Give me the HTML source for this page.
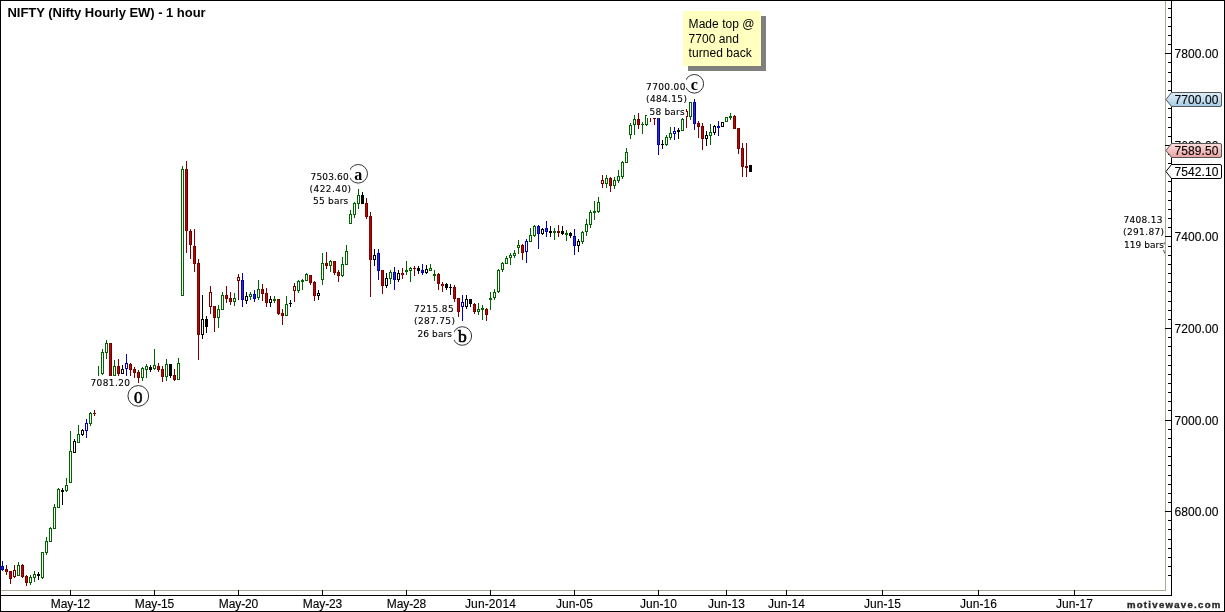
<!DOCTYPE html>
<html><head><meta charset="utf-8"><title>NIFTY (Nifty Hourly EW) - 1 hour</title>
<style>html,body{margin:0;padding:0;background:#fff;overflow:hidden}svg{display:block;will-change:transform;transform:translateZ(0)}text{font-family:"Liberation Sans",Arial,sans-serif;fill:#000}.ax{font-size:12px;letter-spacing:0.12px;stroke:#000;stroke-width:0.12px}.lb{font-family:"DejaVu Sans","Liberation Sans",sans-serif;font-size:9px;letter-spacing:0.27px;stroke:#000;stroke-width:0.12px}.ti{font-size:13px;font-weight:bold;letter-spacing:-0.03px}.wv{font-family:"Liberation Serif","Times New Roman",serif;font-weight:bold;font-size:17px}.nt{font-size:12px;letter-spacing:0.04px}.wm{font-size:9.6px;font-weight:bold;letter-spacing:1.28px;fill:#2a2a2a;stroke:#2a2a2a;stroke-width:0.4px}</style></head><body>
<svg width="1225" height="612" viewBox="0 0 1225 612">
<defs><linearGradient id="gb" x1="0" y1="0" x2="0" y2="1"><stop offset="0" stop-color="#dcecf8"/><stop offset="0.5" stop-color="#c4def0"/><stop offset="1" stop-color="#a3cbe6"/></linearGradient><linearGradient id="gp" x1="0" y1="0" x2="0" y2="1"><stop offset="0" stop-color="#fbdcdc"/><stop offset="0.5" stop-color="#f4c0c0"/><stop offset="1" stop-color="#eaa0a0"/></linearGradient><clipPath id="cp"><rect x="1" y="1" width="1164" height="589"/></clipPath></defs>
<rect x="0" y="0" width="1225" height="612" fill="#fff"/>
<g shape-rendering="crispEdges">
<rect x="2" y="561" width="1" height="10" fill="#0000c8"/>
<rect x="1" y="566" width="3" height="4" fill="#0000f0"/>
<rect x="3" y="566" width="1" height="4" fill="#00007a"/>
<rect x="2" y="567" width="1" height="2" fill="#3030c0"/>
<rect x="6" y="565" width="1" height="10" fill="#7a0000"/>
<rect x="5" y="569" width="3" height="3" fill="#8e0000"/>
<rect x="7" y="569" width="1" height="3" fill="#520000"/>
<rect x="6" y="570" width="1" height="1" fill="#cc0000"/>
<rect x="10" y="571" width="1" height="13" fill="#7a0000"/>
<rect x="9" y="571" width="3" height="8" fill="#8e0000"/>
<rect x="11" y="571" width="1" height="8" fill="#520000"/>
<rect x="10" y="572" width="1" height="6" fill="#cc0000"/>
<rect x="14" y="565" width="1" height="13" fill="#7a0000"/>
<rect x="13" y="570" width="3" height="7" fill="#7a0000"/>
<rect x="14" y="571" width="1" height="5" fill="#fff"/>
<rect x="18" y="562" width="1" height="14" fill="#006400"/>
<rect x="17" y="565" width="3" height="11" fill="#006400"/>
<rect x="18" y="566" width="1" height="9" fill="#fff"/>
<rect x="22" y="564" width="1" height="14" fill="#7a0000"/>
<rect x="21" y="565" width="3" height="12" fill="#8e0000"/>
<rect x="23" y="565" width="1" height="12" fill="#520000"/>
<rect x="22" y="566" width="1" height="10" fill="#cc0000"/>
<rect x="26" y="575" width="1" height="11" fill="#7a0000"/>
<rect x="25" y="576" width="3" height="7" fill="#8e0000"/>
<rect x="27" y="576" width="1" height="7" fill="#520000"/>
<rect x="26" y="577" width="1" height="5" fill="#cc0000"/>
<rect x="30" y="575" width="1" height="10" fill="#006400"/>
<rect x="29" y="577" width="3" height="6" fill="#006400"/>
<rect x="30" y="578" width="1" height="4" fill="#fff"/>
<rect x="34" y="571" width="1" height="11" fill="#006400"/>
<rect x="33" y="574" width="3" height="4" fill="#006400"/>
<rect x="34" y="575" width="1" height="2" fill="#fff"/>
<rect x="38" y="572" width="1" height="8" fill="#000000"/>
<rect x="37" y="574" width="3" height="2" fill="#000000"/>
<rect x="42" y="552" width="1" height="27" fill="#006400"/>
<rect x="41" y="552" width="3" height="26" fill="#006400"/>
<rect x="42" y="553" width="1" height="24" fill="#fff"/>
<rect x="46" y="537" width="1" height="18" fill="#006400"/>
<rect x="45" y="541" width="3" height="12" fill="#006400"/>
<rect x="46" y="542" width="1" height="10" fill="#fff"/>
<rect x="50" y="527" width="1" height="15" fill="#006400"/>
<rect x="49" y="528" width="3" height="14" fill="#006400"/>
<rect x="50" y="529" width="1" height="12" fill="#fff"/>
<rect x="54" y="504" width="1" height="25" fill="#006400"/>
<rect x="53" y="507" width="3" height="22" fill="#006400"/>
<rect x="54" y="508" width="1" height="20" fill="#fff"/>
<rect x="58" y="488" width="1" height="20" fill="#006400"/>
<rect x="57" y="489" width="3" height="19" fill="#006400"/>
<rect x="58" y="490" width="1" height="17" fill="#fff"/>
<rect x="62" y="488" width="1" height="17" fill="#000000"/>
<rect x="61" y="490" width="3" height="2" fill="#000000"/>
<rect x="66" y="478" width="1" height="14" fill="#006400"/>
<rect x="65" y="485" width="3" height="6" fill="#006400"/>
<rect x="66" y="486" width="1" height="4" fill="#fff"/>
<rect x="70" y="431" width="1" height="52" fill="#006400"/>
<rect x="69" y="451" width="3" height="32" fill="#006400"/>
<rect x="70" y="452" width="1" height="30" fill="#fff"/>
<rect x="74" y="439" width="1" height="14" fill="#000000"/>
<rect x="73" y="441" width="3" height="12" fill="#000000"/>
<rect x="74" y="442" width="1" height="10" fill="#fff"/>
<rect x="78" y="425" width="1" height="18" fill="#006400"/>
<rect x="77" y="434" width="3" height="9" fill="#006400"/>
<rect x="78" y="435" width="1" height="7" fill="#fff"/>
<rect x="82" y="429" width="1" height="7" fill="#000000"/>
<rect x="81" y="430" width="3" height="5" fill="#000000"/>
<rect x="82" y="431" width="1" height="3" fill="#fff"/>
<rect x="86" y="419" width="1" height="19" fill="#0000c8"/>
<rect x="85" y="423" width="3" height="8" fill="#0000c8"/>
<rect x="86" y="424" width="1" height="6" fill="#fff"/>
<rect x="90" y="412" width="1" height="14" fill="#006400"/>
<rect x="89" y="413" width="3" height="11" fill="#006400"/>
<rect x="90" y="414" width="1" height="9" fill="#fff"/>
<rect x="94" y="410" width="1" height="6" fill="#7a0000"/>
<rect x="93" y="413" width="3" height="1" fill="#7a0000"/>
<rect x="98" y="366" width="1" height="10" fill="#006400"/>
<rect x="102" y="349" width="1" height="26" fill="#006400"/>
<rect x="101" y="352" width="3" height="22" fill="#006400"/>
<rect x="102" y="353" width="1" height="20" fill="#fff"/>
<rect x="106" y="340" width="1" height="19" fill="#006400"/>
<rect x="105" y="343" width="3" height="10" fill="#006400"/>
<rect x="106" y="344" width="1" height="8" fill="#fff"/>
<rect x="110" y="343" width="1" height="33" fill="#7a0000"/>
<rect x="109" y="343" width="3" height="33" fill="#8e0000"/>
<rect x="111" y="343" width="1" height="33" fill="#520000"/>
<rect x="110" y="344" width="1" height="31" fill="#cc0000"/>
<rect x="114" y="360" width="1" height="16" fill="#006400"/>
<rect x="113" y="366" width="3" height="10" fill="#006400"/>
<rect x="114" y="367" width="1" height="8" fill="#fff"/>
<rect x="118" y="359" width="1" height="17" fill="#7a0000"/>
<rect x="117" y="366" width="3" height="8" fill="#8e0000"/>
<rect x="119" y="366" width="1" height="8" fill="#520000"/>
<rect x="118" y="367" width="1" height="6" fill="#cc0000"/>
<rect x="122" y="365" width="1" height="9" fill="#000000"/>
<rect x="121" y="369" width="3" height="5" fill="#000000"/>
<rect x="122" y="370" width="1" height="3" fill="#fff"/>
<rect x="126" y="354" width="1" height="22" fill="#0000c8"/>
<rect x="125" y="363" width="3" height="6" fill="#0000c8"/>
<rect x="126" y="364" width="1" height="4" fill="#fff"/>
<rect x="130" y="363" width="1" height="13" fill="#7a0000"/>
<rect x="129" y="364" width="3" height="6" fill="#8e0000"/>
<rect x="131" y="364" width="1" height="6" fill="#520000"/>
<rect x="130" y="365" width="1" height="4" fill="#cc0000"/>
<rect x="134" y="367" width="1" height="11" fill="#7a0000"/>
<rect x="133" y="369" width="3" height="4" fill="#8e0000"/>
<rect x="135" y="369" width="1" height="4" fill="#520000"/>
<rect x="134" y="370" width="1" height="2" fill="#cc0000"/>
<rect x="138" y="370" width="1" height="13" fill="#7a0000"/>
<rect x="137" y="372" width="3" height="6" fill="#8e0000"/>
<rect x="139" y="372" width="1" height="6" fill="#520000"/>
<rect x="138" y="373" width="1" height="4" fill="#cc0000"/>
<rect x="142" y="367" width="1" height="14" fill="#006400"/>
<rect x="141" y="368" width="3" height="10" fill="#006400"/>
<rect x="142" y="369" width="1" height="8" fill="#fff"/>
<rect x="146" y="364" width="1" height="14" fill="#006400"/>
<rect x="145" y="366" width="3" height="4" fill="#006400"/>
<rect x="146" y="367" width="1" height="2" fill="#fff"/>
<rect x="150" y="365" width="1" height="7" fill="#000000"/>
<rect x="149" y="367" width="3" height="3" fill="#000"/>
<rect x="154" y="349" width="1" height="21" fill="#006400"/>
<rect x="153" y="365" width="3" height="4" fill="#006400"/>
<rect x="154" y="366" width="1" height="2" fill="#fff"/>
<rect x="158" y="363" width="1" height="9" fill="#7a0000"/>
<rect x="157" y="366" width="3" height="4" fill="#8e0000"/>
<rect x="159" y="366" width="1" height="4" fill="#520000"/>
<rect x="158" y="367" width="1" height="2" fill="#cc0000"/>
<rect x="162" y="366" width="1" height="16" fill="#7a0000"/>
<rect x="161" y="369" width="3" height="8" fill="#8e0000"/>
<rect x="163" y="369" width="1" height="8" fill="#520000"/>
<rect x="162" y="370" width="1" height="6" fill="#cc0000"/>
<rect x="166" y="359" width="1" height="22" fill="#006400"/>
<rect x="165" y="364" width="3" height="13" fill="#006400"/>
<rect x="166" y="365" width="1" height="11" fill="#fff"/>
<rect x="170" y="364" width="1" height="14" fill="#000000"/>
<rect x="169" y="364" width="3" height="12" fill="#000"/>
<rect x="174" y="369" width="1" height="12" fill="#7a0000"/>
<rect x="173" y="375" width="3" height="5" fill="#8e0000"/>
<rect x="175" y="375" width="1" height="5" fill="#520000"/>
<rect x="174" y="376" width="1" height="3" fill="#cc0000"/>
<rect x="178" y="358" width="1" height="22" fill="#006400"/>
<rect x="177" y="363" width="3" height="17" fill="#006400"/>
<rect x="178" y="364" width="1" height="15" fill="#fff"/>
<rect x="182" y="166" width="1" height="130" fill="#006400"/>
<rect x="181" y="169" width="3" height="127" fill="#006400"/>
<rect x="182" y="170" width="1" height="125" fill="#fff"/>
<rect x="186" y="161" width="1" height="92" fill="#7a0000"/>
<rect x="185" y="169" width="3" height="62" fill="#8e0000"/>
<rect x="187" y="169" width="1" height="62" fill="#520000"/>
<rect x="186" y="170" width="1" height="60" fill="#cc0000"/>
<rect x="190" y="229" width="1" height="30" fill="#7a0000"/>
<rect x="189" y="231" width="3" height="14" fill="#8e0000"/>
<rect x="191" y="231" width="1" height="14" fill="#520000"/>
<rect x="190" y="232" width="1" height="12" fill="#cc0000"/>
<rect x="194" y="229" width="1" height="43" fill="#7a0000"/>
<rect x="193" y="246" width="3" height="18" fill="#8e0000"/>
<rect x="195" y="246" width="1" height="18" fill="#520000"/>
<rect x="194" y="247" width="1" height="16" fill="#cc0000"/>
<rect x="198" y="259" width="1" height="101" fill="#7a0000"/>
<rect x="197" y="263" width="3" height="72" fill="#8e0000"/>
<rect x="199" y="263" width="1" height="72" fill="#520000"/>
<rect x="198" y="264" width="1" height="70" fill="#cc0000"/>
<rect x="202" y="295" width="1" height="44" fill="#000000"/>
<rect x="201" y="319" width="3" height="16" fill="#000000"/>
<rect x="202" y="320" width="1" height="14" fill="#fff"/>
<rect x="206" y="316" width="1" height="17" fill="#000000"/>
<rect x="205" y="319" width="3" height="8" fill="#000"/>
<rect x="210" y="286" width="1" height="28" fill="#7a0000"/>
<rect x="209" y="292" width="3" height="15" fill="#7a0000"/>
<rect x="210" y="293" width="1" height="13" fill="#fff"/>
<rect x="214" y="306" width="1" height="26" fill="#7a0000"/>
<rect x="213" y="306" width="3" height="12" fill="#8e0000"/>
<rect x="215" y="306" width="1" height="12" fill="#520000"/>
<rect x="214" y="307" width="1" height="10" fill="#cc0000"/>
<rect x="218" y="305" width="1" height="23" fill="#006400"/>
<rect x="217" y="309" width="3" height="9" fill="#006400"/>
<rect x="218" y="310" width="1" height="7" fill="#fff"/>
<rect x="222" y="292" width="1" height="18" fill="#006400"/>
<rect x="221" y="295" width="3" height="15" fill="#006400"/>
<rect x="222" y="296" width="1" height="13" fill="#fff"/>
<rect x="226" y="286" width="1" height="17" fill="#7a0000"/>
<rect x="225" y="295" width="3" height="4" fill="#8e0000"/>
<rect x="227" y="295" width="1" height="4" fill="#520000"/>
<rect x="226" y="296" width="1" height="2" fill="#cc0000"/>
<rect x="230" y="292" width="1" height="13" fill="#7a0000"/>
<rect x="229" y="298" width="3" height="4" fill="#8e0000"/>
<rect x="231" y="298" width="1" height="4" fill="#520000"/>
<rect x="230" y="299" width="1" height="2" fill="#cc0000"/>
<rect x="234" y="293" width="1" height="13" fill="#006400"/>
<rect x="233" y="298" width="3" height="4" fill="#006400"/>
<rect x="234" y="299" width="1" height="2" fill="#fff"/>
<rect x="238" y="274" width="1" height="26" fill="#7a0000"/>
<rect x="237" y="277" width="3" height="4" fill="#7a0000"/>
<rect x="238" y="278" width="1" height="2" fill="#fff"/>
<rect x="242" y="273" width="1" height="34" fill="#0000c8"/>
<rect x="241" y="280" width="3" height="20" fill="#0000f0"/>
<rect x="243" y="280" width="1" height="20" fill="#00007a"/>
<rect x="242" y="281" width="1" height="18" fill="#3030c0"/>
<rect x="246" y="292" width="1" height="12" fill="#000000"/>
<rect x="245" y="296" width="3" height="5" fill="#000000"/>
<rect x="246" y="297" width="1" height="3" fill="#fff"/>
<rect x="250" y="292" width="1" height="8" fill="#006400"/>
<rect x="249" y="294" width="3" height="3" fill="#006400"/>
<rect x="250" y="295" width="1" height="1" fill="#fff"/>
<rect x="254" y="290" width="1" height="12" fill="#0000c8"/>
<rect x="253" y="294" width="3" height="5" fill="#0000f0"/>
<rect x="255" y="294" width="1" height="5" fill="#00007a"/>
<rect x="254" y="295" width="1" height="3" fill="#3030c0"/>
<rect x="258" y="280" width="1" height="20" fill="#006400"/>
<rect x="257" y="289" width="3" height="9" fill="#006400"/>
<rect x="258" y="290" width="1" height="7" fill="#fff"/>
<rect x="262" y="284" width="1" height="17" fill="#7a0000"/>
<rect x="261" y="289" width="3" height="5" fill="#8e0000"/>
<rect x="263" y="289" width="1" height="5" fill="#520000"/>
<rect x="262" y="290" width="1" height="3" fill="#cc0000"/>
<rect x="266" y="288" width="1" height="19" fill="#7a0000"/>
<rect x="265" y="293" width="3" height="10" fill="#8e0000"/>
<rect x="267" y="293" width="1" height="10" fill="#520000"/>
<rect x="266" y="294" width="1" height="8" fill="#cc0000"/>
<rect x="270" y="296" width="1" height="11" fill="#000000"/>
<rect x="269" y="299" width="3" height="4" fill="#000000"/>
<rect x="270" y="300" width="1" height="2" fill="#fff"/>
<rect x="274" y="296" width="1" height="7" fill="#006400"/>
<rect x="273" y="299" width="3" height="2" fill="#006400"/>
<rect x="278" y="299" width="1" height="16" fill="#7a0000"/>
<rect x="277" y="299" width="3" height="15" fill="#8e0000"/>
<rect x="279" y="299" width="1" height="15" fill="#520000"/>
<rect x="278" y="300" width="1" height="13" fill="#cc0000"/>
<rect x="282" y="309" width="1" height="16" fill="#7a0000"/>
<rect x="281" y="313" width="3" height="3" fill="#8e0000"/>
<rect x="283" y="313" width="1" height="3" fill="#520000"/>
<rect x="282" y="314" width="1" height="1" fill="#cc0000"/>
<rect x="286" y="296" width="1" height="20" fill="#006400"/>
<rect x="285" y="304" width="3" height="12" fill="#006400"/>
<rect x="286" y="305" width="1" height="10" fill="#fff"/>
<rect x="290" y="300" width="1" height="7" fill="#000000"/>
<rect x="289" y="303" width="3" height="1" fill="#000000"/>
<rect x="294" y="283" width="1" height="19" fill="#7a0000"/>
<rect x="293" y="286" width="3" height="5" fill="#7a0000"/>
<rect x="294" y="287" width="1" height="3" fill="#fff"/>
<rect x="298" y="280" width="1" height="13" fill="#006400"/>
<rect x="297" y="281" width="3" height="10" fill="#006400"/>
<rect x="298" y="282" width="1" height="8" fill="#fff"/>
<rect x="302" y="279" width="1" height="11" fill="#006400"/>
<rect x="301" y="280" width="3" height="2" fill="#006400"/>
<rect x="306" y="273" width="1" height="8" fill="#006400"/>
<rect x="305" y="274" width="3" height="7" fill="#006400"/>
<rect x="306" y="275" width="1" height="5" fill="#fff"/>
<rect x="310" y="275" width="1" height="10" fill="#7a0000"/>
<rect x="309" y="275" width="3" height="8" fill="#8e0000"/>
<rect x="311" y="275" width="1" height="8" fill="#520000"/>
<rect x="310" y="276" width="1" height="6" fill="#cc0000"/>
<rect x="314" y="281" width="1" height="20" fill="#7a0000"/>
<rect x="313" y="282" width="3" height="14" fill="#8e0000"/>
<rect x="315" y="282" width="1" height="14" fill="#520000"/>
<rect x="314" y="283" width="1" height="12" fill="#cc0000"/>
<rect x="318" y="290" width="1" height="10" fill="#000000"/>
<rect x="317" y="293" width="3" height="3" fill="#000000"/>
<rect x="318" y="294" width="1" height="1" fill="#fff"/>
<rect x="322" y="253" width="1" height="32" fill="#006400"/>
<rect x="321" y="263" width="3" height="17" fill="#006400"/>
<rect x="322" y="264" width="1" height="15" fill="#fff"/>
<rect x="326" y="252" width="1" height="17" fill="#7a0000"/>
<rect x="325" y="263" width="3" height="3" fill="#8e0000"/>
<rect x="327" y="263" width="1" height="3" fill="#520000"/>
<rect x="326" y="264" width="1" height="1" fill="#cc0000"/>
<rect x="330" y="260" width="1" height="12" fill="#006400"/>
<rect x="329" y="261" width="3" height="5" fill="#006400"/>
<rect x="330" y="262" width="1" height="3" fill="#fff"/>
<rect x="334" y="261" width="1" height="14" fill="#7a0000"/>
<rect x="333" y="261" width="3" height="12" fill="#8e0000"/>
<rect x="335" y="261" width="1" height="12" fill="#520000"/>
<rect x="334" y="262" width="1" height="10" fill="#cc0000"/>
<rect x="338" y="270" width="1" height="12" fill="#7a0000"/>
<rect x="337" y="272" width="3" height="4" fill="#8e0000"/>
<rect x="339" y="272" width="1" height="4" fill="#520000"/>
<rect x="338" y="273" width="1" height="2" fill="#cc0000"/>
<rect x="342" y="257" width="1" height="20" fill="#006400"/>
<rect x="341" y="264" width="3" height="12" fill="#006400"/>
<rect x="342" y="265" width="1" height="10" fill="#fff"/>
<rect x="346" y="245" width="1" height="20" fill="#006400"/>
<rect x="345" y="251" width="3" height="14" fill="#006400"/>
<rect x="346" y="252" width="1" height="12" fill="#fff"/>
<rect x="350" y="210" width="1" height="14" fill="#006400"/>
<rect x="349" y="214" width="3" height="10" fill="#006400"/>
<rect x="350" y="215" width="1" height="8" fill="#fff"/>
<rect x="354" y="202" width="1" height="16" fill="#006400"/>
<rect x="353" y="203" width="3" height="12" fill="#006400"/>
<rect x="354" y="204" width="1" height="10" fill="#fff"/>
<rect x="358" y="189" width="1" height="20" fill="#006400"/>
<rect x="357" y="195" width="3" height="9" fill="#006400"/>
<rect x="358" y="196" width="1" height="7" fill="#fff"/>
<rect x="362" y="192" width="1" height="12" fill="#000000"/>
<rect x="361" y="195" width="3" height="9" fill="#000"/>
<rect x="366" y="198" width="1" height="21" fill="#7a0000"/>
<rect x="365" y="203" width="3" height="14" fill="#8e0000"/>
<rect x="367" y="203" width="1" height="14" fill="#520000"/>
<rect x="366" y="204" width="1" height="12" fill="#cc0000"/>
<rect x="370" y="212" width="1" height="85" fill="#7a0000"/>
<rect x="369" y="216" width="3" height="44" fill="#8e0000"/>
<rect x="371" y="216" width="1" height="44" fill="#520000"/>
<rect x="370" y="217" width="1" height="42" fill="#cc0000"/>
<rect x="374" y="249" width="1" height="17" fill="#000000"/>
<rect x="373" y="255" width="3" height="5" fill="#000000"/>
<rect x="374" y="256" width="1" height="3" fill="#fff"/>
<rect x="378" y="249" width="1" height="31" fill="#0000c8"/>
<rect x="377" y="253" width="3" height="18" fill="#0000f0"/>
<rect x="379" y="253" width="1" height="18" fill="#00007a"/>
<rect x="378" y="254" width="1" height="16" fill="#3030c0"/>
<rect x="382" y="270" width="1" height="24" fill="#7a0000"/>
<rect x="381" y="270" width="3" height="16" fill="#8e0000"/>
<rect x="383" y="270" width="1" height="16" fill="#520000"/>
<rect x="382" y="271" width="1" height="14" fill="#cc0000"/>
<rect x="386" y="273" width="1" height="15" fill="#000000"/>
<rect x="385" y="278" width="3" height="8" fill="#000000"/>
<rect x="386" y="279" width="1" height="6" fill="#fff"/>
<rect x="390" y="270" width="1" height="14" fill="#006400"/>
<rect x="389" y="272" width="3" height="7" fill="#006400"/>
<rect x="390" y="273" width="1" height="5" fill="#fff"/>
<rect x="394" y="267" width="1" height="23" fill="#0000c8"/>
<rect x="393" y="272" width="3" height="8" fill="#0000f0"/>
<rect x="395" y="272" width="1" height="8" fill="#00007a"/>
<rect x="394" y="273" width="1" height="6" fill="#3030c0"/>
<rect x="398" y="270" width="1" height="12" fill="#000000"/>
<rect x="397" y="273" width="3" height="7" fill="#000000"/>
<rect x="398" y="274" width="1" height="5" fill="#fff"/>
<rect x="402" y="268" width="1" height="11" fill="#7a0000"/>
<rect x="401" y="273" width="3" height="2" fill="#8e0000"/>
<rect x="403" y="273" width="1" height="2" fill="#520000"/>
<rect x="402" y="273" width="1" height="2" fill="#cc0000"/>
<rect x="406" y="261" width="1" height="14" fill="#006400"/>
<rect x="405" y="270" width="3" height="2" fill="#006400"/>
<rect x="410" y="267" width="1" height="15" fill="#006400"/>
<rect x="409" y="268" width="3" height="3" fill="#006400"/>
<rect x="410" y="269" width="1" height="1" fill="#fff"/>
<rect x="414" y="266" width="1" height="10" fill="#7a0000"/>
<rect x="413" y="268" width="3" height="1" fill="#7a0000"/>
<rect x="418" y="266" width="1" height="8" fill="#000000"/>
<rect x="417" y="268" width="3" height="3" fill="#000"/>
<rect x="422" y="264" width="1" height="11" fill="#0000c8"/>
<rect x="421" y="270" width="3" height="3" fill="#0000f0"/>
<rect x="423" y="270" width="1" height="3" fill="#00007a"/>
<rect x="422" y="271" width="1" height="1" fill="#3030c0"/>
<rect x="426" y="265" width="1" height="9" fill="#000000"/>
<rect x="425" y="269" width="3" height="4" fill="#000000"/>
<rect x="426" y="270" width="1" height="2" fill="#fff"/>
<rect x="430" y="264" width="1" height="7" fill="#006400"/>
<rect x="429" y="268" width="3" height="3" fill="#006400"/>
<rect x="430" y="269" width="1" height="1" fill="#fff"/>
<rect x="434" y="270" width="1" height="11" fill="#006400"/>
<rect x="433" y="274" width="3" height="2" fill="#006400"/>
<rect x="438" y="273" width="1" height="17" fill="#7a0000"/>
<rect x="437" y="274" width="3" height="10" fill="#8e0000"/>
<rect x="439" y="274" width="1" height="10" fill="#520000"/>
<rect x="438" y="275" width="1" height="8" fill="#cc0000"/>
<rect x="442" y="282" width="1" height="10" fill="#7a0000"/>
<rect x="441" y="284" width="3" height="2" fill="#8e0000"/>
<rect x="443" y="284" width="1" height="2" fill="#520000"/>
<rect x="442" y="284" width="1" height="2" fill="#cc0000"/>
<rect x="446" y="283" width="1" height="7" fill="#000000"/>
<rect x="445" y="284" width="3" height="4" fill="#000"/>
<rect x="450" y="284" width="1" height="11" fill="#000000"/>
<rect x="449" y="287" width="3" height="1" fill="#000000"/>
<rect x="454" y="285" width="1" height="17" fill="#7a0000"/>
<rect x="453" y="287" width="3" height="12" fill="#8e0000"/>
<rect x="455" y="287" width="1" height="12" fill="#520000"/>
<rect x="454" y="288" width="1" height="10" fill="#cc0000"/>
<rect x="458" y="298" width="1" height="19" fill="#7a0000"/>
<rect x="457" y="298" width="3" height="14" fill="#8e0000"/>
<rect x="459" y="298" width="1" height="14" fill="#520000"/>
<rect x="458" y="299" width="1" height="12" fill="#cc0000"/>
<rect x="462" y="295" width="1" height="26" fill="#0000c8"/>
<rect x="461" y="302" width="3" height="5" fill="#0000c8"/>
<rect x="462" y="303" width="1" height="3" fill="#fff"/>
<rect x="466" y="295" width="1" height="14" fill="#000000"/>
<rect x="465" y="299" width="3" height="8" fill="#000000"/>
<rect x="466" y="300" width="1" height="6" fill="#fff"/>
<rect x="470" y="299" width="1" height="8" fill="#000000"/>
<rect x="469" y="299" width="3" height="5" fill="#000"/>
<rect x="474" y="303" width="1" height="11" fill="#7a0000"/>
<rect x="473" y="304" width="3" height="8" fill="#8e0000"/>
<rect x="475" y="304" width="1" height="8" fill="#520000"/>
<rect x="474" y="305" width="1" height="6" fill="#cc0000"/>
<rect x="478" y="303" width="1" height="12" fill="#006400"/>
<rect x="477" y="309" width="3" height="3" fill="#006400"/>
<rect x="478" y="310" width="1" height="1" fill="#fff"/>
<rect x="482" y="305" width="1" height="15" fill="#006400"/>
<rect x="481" y="308" width="3" height="2" fill="#006400"/>
<rect x="486" y="308" width="1" height="13" fill="#7a0000"/>
<rect x="485" y="309" width="3" height="6" fill="#8e0000"/>
<rect x="487" y="309" width="1" height="6" fill="#520000"/>
<rect x="486" y="310" width="1" height="4" fill="#cc0000"/>
<rect x="490" y="292" width="1" height="18" fill="#006400"/>
<rect x="489" y="298" width="3" height="2" fill="#006400"/>
<rect x="494" y="289" width="1" height="11" fill="#006400"/>
<rect x="493" y="292" width="3" height="6" fill="#006400"/>
<rect x="494" y="293" width="1" height="4" fill="#fff"/>
<rect x="498" y="269" width="1" height="24" fill="#006400"/>
<rect x="497" y="270" width="3" height="22" fill="#006400"/>
<rect x="498" y="271" width="1" height="20" fill="#fff"/>
<rect x="502" y="262" width="1" height="10" fill="#006400"/>
<rect x="501" y="263" width="3" height="7" fill="#006400"/>
<rect x="502" y="264" width="1" height="5" fill="#fff"/>
<rect x="506" y="256" width="1" height="8" fill="#006400"/>
<rect x="505" y="258" width="3" height="6" fill="#006400"/>
<rect x="506" y="259" width="1" height="4" fill="#fff"/>
<rect x="510" y="253" width="1" height="12" fill="#006400"/>
<rect x="509" y="255" width="3" height="3" fill="#006400"/>
<rect x="510" y="256" width="1" height="1" fill="#fff"/>
<rect x="514" y="250" width="1" height="8" fill="#006400"/>
<rect x="513" y="253" width="3" height="3" fill="#006400"/>
<rect x="514" y="254" width="1" height="1" fill="#fff"/>
<rect x="518" y="240" width="1" height="14" fill="#006400"/>
<rect x="517" y="245" width="3" height="3" fill="#006400"/>
<rect x="518" y="246" width="1" height="1" fill="#fff"/>
<rect x="522" y="244" width="1" height="16" fill="#7a0000"/>
<rect x="521" y="245" width="3" height="8" fill="#8e0000"/>
<rect x="523" y="245" width="1" height="8" fill="#520000"/>
<rect x="522" y="246" width="1" height="6" fill="#cc0000"/>
<rect x="526" y="239" width="1" height="24" fill="#0000c8"/>
<rect x="525" y="241" width="3" height="11" fill="#0000c8"/>
<rect x="526" y="242" width="1" height="9" fill="#fff"/>
<rect x="530" y="228" width="1" height="14" fill="#006400"/>
<rect x="529" y="235" width="3" height="7" fill="#006400"/>
<rect x="530" y="236" width="1" height="5" fill="#fff"/>
<rect x="534" y="225" width="1" height="12" fill="#006400"/>
<rect x="533" y="226" width="3" height="10" fill="#006400"/>
<rect x="534" y="227" width="1" height="8" fill="#fff"/>
<rect x="538" y="225" width="1" height="24" fill="#0000c8"/>
<rect x="537" y="226" width="3" height="8" fill="#0000f0"/>
<rect x="539" y="226" width="1" height="8" fill="#00007a"/>
<rect x="538" y="227" width="1" height="6" fill="#3030c0"/>
<rect x="542" y="228" width="1" height="7" fill="#000000"/>
<rect x="541" y="229" width="3" height="5" fill="#000000"/>
<rect x="542" y="230" width="1" height="3" fill="#fff"/>
<rect x="546" y="221" width="1" height="16" fill="#0000c8"/>
<rect x="545" y="228" width="3" height="4" fill="#0000f0"/>
<rect x="547" y="228" width="1" height="4" fill="#00007a"/>
<rect x="546" y="229" width="1" height="2" fill="#3030c0"/>
<rect x="550" y="226" width="1" height="11" fill="#000000"/>
<rect x="549" y="231" width="3" height="2" fill="#000000"/>
<rect x="554" y="228" width="1" height="12" fill="#006400"/>
<rect x="553" y="231" width="3" height="2" fill="#006400"/>
<rect x="558" y="225" width="1" height="12" fill="#7a0000"/>
<rect x="557" y="231" width="3" height="2" fill="#7a0000"/>
<rect x="562" y="226" width="1" height="9" fill="#000000"/>
<rect x="561" y="231" width="3" height="3" fill="#000"/>
<rect x="566" y="230" width="1" height="11" fill="#006400"/>
<rect x="565" y="233" width="3" height="2" fill="#006400"/>
<rect x="570" y="232" width="1" height="6" fill="#000000"/>
<rect x="569" y="233" width="3" height="3" fill="#000"/>
<rect x="574" y="229" width="1" height="26" fill="#0000c8"/>
<rect x="573" y="236" width="3" height="10" fill="#0000f0"/>
<rect x="575" y="236" width="1" height="10" fill="#00007a"/>
<rect x="574" y="237" width="1" height="8" fill="#3030c0"/>
<rect x="578" y="239" width="1" height="13" fill="#000000"/>
<rect x="577" y="241" width="3" height="5" fill="#000000"/>
<rect x="578" y="242" width="1" height="3" fill="#fff"/>
<rect x="582" y="231" width="1" height="13" fill="#006400"/>
<rect x="581" y="232" width="3" height="10" fill="#006400"/>
<rect x="582" y="233" width="1" height="8" fill="#fff"/>
<rect x="586" y="219" width="1" height="17" fill="#006400"/>
<rect x="585" y="224" width="3" height="8" fill="#006400"/>
<rect x="586" y="225" width="1" height="6" fill="#fff"/>
<rect x="590" y="210" width="1" height="18" fill="#006400"/>
<rect x="589" y="212" width="3" height="13" fill="#006400"/>
<rect x="590" y="213" width="1" height="11" fill="#fff"/>
<rect x="594" y="201" width="1" height="19" fill="#006400"/>
<rect x="593" y="211" width="3" height="2" fill="#006400"/>
<rect x="598" y="197" width="1" height="16" fill="#006400"/>
<rect x="597" y="202" width="3" height="10" fill="#006400"/>
<rect x="598" y="203" width="1" height="8" fill="#fff"/>
<rect x="602" y="175" width="1" height="13" fill="#7a0000"/>
<rect x="601" y="180" width="3" height="4" fill="#7a0000"/>
<rect x="602" y="181" width="1" height="2" fill="#fff"/>
<rect x="606" y="175" width="1" height="13" fill="#006400"/>
<rect x="605" y="178" width="3" height="6" fill="#006400"/>
<rect x="606" y="179" width="1" height="4" fill="#fff"/>
<rect x="610" y="177" width="1" height="15" fill="#7a0000"/>
<rect x="609" y="178" width="3" height="8" fill="#8e0000"/>
<rect x="611" y="178" width="1" height="8" fill="#520000"/>
<rect x="610" y="179" width="1" height="6" fill="#cc0000"/>
<rect x="614" y="177" width="1" height="12" fill="#006400"/>
<rect x="613" y="180" width="3" height="6" fill="#006400"/>
<rect x="614" y="181" width="1" height="4" fill="#fff"/>
<rect x="618" y="170" width="1" height="13" fill="#006400"/>
<rect x="617" y="176" width="3" height="5" fill="#006400"/>
<rect x="618" y="177" width="1" height="3" fill="#fff"/>
<rect x="622" y="161" width="1" height="18" fill="#006400"/>
<rect x="621" y="162" width="3" height="15" fill="#006400"/>
<rect x="622" y="163" width="1" height="13" fill="#fff"/>
<rect x="626" y="148" width="1" height="15" fill="#006400"/>
<rect x="625" y="152" width="3" height="11" fill="#006400"/>
<rect x="626" y="153" width="1" height="9" fill="#fff"/>
<rect x="630" y="123" width="1" height="16" fill="#006400"/>
<rect x="629" y="125" width="3" height="10" fill="#006400"/>
<rect x="630" y="126" width="1" height="8" fill="#fff"/>
<rect x="634" y="115" width="1" height="20" fill="#006400"/>
<rect x="633" y="119" width="3" height="6" fill="#006400"/>
<rect x="634" y="120" width="1" height="4" fill="#fff"/>
<rect x="638" y="113" width="1" height="16" fill="#7a0000"/>
<rect x="637" y="119" width="3" height="6" fill="#8e0000"/>
<rect x="639" y="119" width="1" height="6" fill="#520000"/>
<rect x="638" y="120" width="1" height="4" fill="#cc0000"/>
<rect x="642" y="122" width="1" height="12" fill="#006400"/>
<rect x="641" y="124" width="3" height="1" fill="#006400"/>
<rect x="646" y="115" width="1" height="11" fill="#006400"/>
<rect x="645" y="115" width="3" height="10" fill="#006400"/>
<rect x="646" y="116" width="1" height="8" fill="#fff"/>
<rect x="650" y="112" width="1" height="10" fill="#7a0000"/>
<rect x="654" y="112" width="1" height="13" fill="#7a0000"/>
<rect x="653" y="118" width="3" height="1" fill="#7a0000"/>
<rect x="658" y="110" width="1" height="45" fill="#0000c8"/>
<rect x="657" y="112" width="3" height="33" fill="#0000f0"/>
<rect x="659" y="112" width="1" height="33" fill="#00007a"/>
<rect x="658" y="113" width="1" height="31" fill="#3030c0"/>
<rect x="662" y="140" width="1" height="9" fill="#000000"/>
<rect x="661" y="144" width="3" height="1" fill="#000000"/>
<rect x="666" y="135" width="1" height="11" fill="#006400"/>
<rect x="665" y="137" width="3" height="8" fill="#006400"/>
<rect x="666" y="138" width="1" height="6" fill="#fff"/>
<rect x="670" y="127" width="1" height="13" fill="#006400"/>
<rect x="669" y="133" width="3" height="5" fill="#006400"/>
<rect x="670" y="134" width="1" height="3" fill="#fff"/>
<rect x="674" y="127" width="1" height="13" fill="#0000c8"/>
<rect x="673" y="131" width="3" height="3" fill="#0000c8"/>
<rect x="674" y="132" width="1" height="1" fill="#fff"/>
<rect x="678" y="128" width="1" height="11" fill="#000000"/>
<rect x="677" y="130" width="3" height="2" fill="#000000"/>
<rect x="682" y="118" width="1" height="13" fill="#006400"/>
<rect x="681" y="119" width="3" height="12" fill="#006400"/>
<rect x="682" y="120" width="1" height="10" fill="#fff"/>
<rect x="686" y="109" width="1" height="19" fill="#7a0000"/>
<rect x="685" y="111" width="3" height="6" fill="#7a0000"/>
<rect x="686" y="112" width="1" height="4" fill="#fff"/>
<rect x="690" y="102" width="1" height="18" fill="#006400"/>
<rect x="689" y="102" width="3" height="15" fill="#006400"/>
<rect x="690" y="103" width="1" height="13" fill="#fff"/>
<rect x="694" y="99" width="1" height="31" fill="#0000c8"/>
<rect x="693" y="102" width="3" height="22" fill="#0000f0"/>
<rect x="695" y="102" width="1" height="22" fill="#00007a"/>
<rect x="694" y="103" width="1" height="20" fill="#3030c0"/>
<rect x="698" y="121" width="1" height="17" fill="#7a0000"/>
<rect x="697" y="123" width="3" height="4" fill="#8e0000"/>
<rect x="699" y="123" width="1" height="4" fill="#520000"/>
<rect x="698" y="124" width="1" height="2" fill="#cc0000"/>
<rect x="702" y="123" width="1" height="27" fill="#7a0000"/>
<rect x="701" y="126" width="3" height="13" fill="#8e0000"/>
<rect x="703" y="126" width="1" height="13" fill="#520000"/>
<rect x="702" y="127" width="1" height="11" fill="#cc0000"/>
<rect x="706" y="131" width="1" height="15" fill="#000000"/>
<rect x="705" y="135" width="3" height="4" fill="#000000"/>
<rect x="706" y="136" width="1" height="2" fill="#fff"/>
<rect x="710" y="124" width="1" height="21" fill="#006400"/>
<rect x="709" y="132" width="3" height="4" fill="#006400"/>
<rect x="710" y="133" width="1" height="2" fill="#fff"/>
<rect x="714" y="125" width="1" height="10" fill="#000000"/>
<rect x="713" y="126" width="3" height="7" fill="#000000"/>
<rect x="714" y="127" width="1" height="5" fill="#fff"/>
<rect x="718" y="121" width="1" height="15" fill="#0000c8"/>
<rect x="717" y="126" width="3" height="2" fill="#0000c8"/>
<rect x="722" y="122" width="1" height="5" fill="#000000"/>
<rect x="721" y="122" width="3" height="5" fill="#000000"/>
<rect x="722" y="123" width="1" height="3" fill="#fff"/>
<rect x="726" y="117" width="1" height="5" fill="#006400"/>
<rect x="725" y="117" width="3" height="5" fill="#006400"/>
<rect x="726" y="118" width="1" height="3" fill="#fff"/>
<rect x="730" y="113" width="1" height="7" fill="#006400"/>
<rect x="729" y="116" width="3" height="2" fill="#006400"/>
<rect x="734" y="115" width="1" height="14" fill="#7a0000"/>
<rect x="733" y="116" width="3" height="13" fill="#8e0000"/>
<rect x="735" y="116" width="1" height="13" fill="#520000"/>
<rect x="734" y="117" width="1" height="11" fill="#cc0000"/>
<rect x="738" y="128" width="1" height="26" fill="#7a0000"/>
<rect x="737" y="128" width="3" height="21" fill="#8e0000"/>
<rect x="739" y="128" width="1" height="21" fill="#520000"/>
<rect x="738" y="129" width="1" height="19" fill="#cc0000"/>
<rect x="742" y="143" width="1" height="34" fill="#7a0000"/>
<rect x="741" y="148" width="3" height="19" fill="#8e0000"/>
<rect x="743" y="148" width="1" height="19" fill="#520000"/>
<rect x="742" y="149" width="1" height="17" fill="#cc0000"/>
<rect x="746" y="143" width="1" height="34" fill="#7a0000"/>
<rect x="745" y="166" width="3" height="2" fill="#7a0000"/>
<rect x="750" y="165" width="1" height="7" fill="#000000"/>
<rect x="749" y="165" width="3" height="7" fill="#000"/>
</g>
<circle cx="138.3" cy="395.9" r="10.35" fill="none" stroke="#333" stroke-width="1"/>
<text class="wv" style="font-size:17px;font-weight:normal;stroke:#000;stroke-width:0.55px" x="138.3" y="402.7" text-anchor="middle">0</text>
<circle cx="358.2" cy="173.8" r="9.3" fill="none" stroke="#333" stroke-width="1"/>
<text class="wv" style="font-size:16px;" x="358.2" y="179.70000000000002" text-anchor="middle">a</text>
<circle cx="462.3" cy="336.0" r="9.3" fill="none" stroke="#333" stroke-width="1"/>
<text class="wv" style="font-size:17.5px;font-weight:normal;stroke:#000;stroke-width:0.7px" x="462.3" y="342.1" text-anchor="middle">b</text>
<circle cx="694.3" cy="83.8" r="9.3" fill="none" stroke="#333" stroke-width="1"/>
<text class="wv" style="font-size:16px;" x="694.3" y="89.6" text-anchor="middle">c</text>
<rect x="91" y="376" width="39" height="13" fill="#fff"/>
<text class="lb" style="letter-spacing:0.377px" x="90.50" y="385.7">7081.20</text>
<rect x="311" y="168" width="39" height="40" fill="#fff"/>
<text class="lb" style="letter-spacing:0.163px" x="310.50" y="179.5">7503.60</text>
<text class="lb" style="letter-spacing:0.430px" x="309.62" y="192.0">(422.40)</text>
<text class="lb" style="letter-spacing:0.217px" x="313.04" y="204.4">55 bars</text>
<rect x="415" y="302" width="39" height="38" fill="#fff"/>
<text class="lb" style="letter-spacing:0.403px" x="414.08" y="311.7">7215.85</text>
<text class="lb" style="letter-spacing:0.339px" x="414.04" y="323.7">(287.75)</text>
<text class="lb" style="letter-spacing:0.110px" x="417.46" y="336.7">26 bars</text>
<rect x="647" y="79" width="39" height="39" fill="#fff"/>
<text class="lb" style="letter-spacing:0.350px" x="646.08" y="89.7">7700.00</text>
<text class="lb" style="letter-spacing:0.339px" x="646.04" y="102.2">(484.15)</text>
<text class="lb" style="letter-spacing:0.217px" x="649.46" y="114.8">58 bars</text>
<rect x="1123" y="212" width="41" height="38" fill="#fff"/>
<text class="lb" style="letter-spacing:0.297px" x="1123.54" y="222.7">7408.13</text>
<text class="lb" style="letter-spacing:0.361px" x="1123.04" y="234.8">(291.87)</text>
<text class="lb" style="letter-spacing:0.019px" x="1124.04" y="247.5">119 bars</text>
<clipPath id="cq"><rect x="1160" y="240" width="5" height="4.4"/><rect x="1160" y="250" width="5" height="5"/></clipPath>
<g clip-path="url(#cq)"><circle cx="1173.7" cy="247.8" r="10.4" fill="none" stroke="#444" stroke-width="1"/></g>
<rect x="688" y="16" width="78" height="55" fill="#808080"/>
<rect x="683" y="11" width="78" height="55" fill="#ffffc0"/>
<text class="nt" x="688.6" y="28.1">Made top @</text>
<text class="nt" x="688.6" y="42.8">7700 and</text>
<text class="nt" x="688.6" y="56.8">turned back</text>
<text class="ti" x="7.5" y="17">NIFTY (Nifty Hourly EW) - 1 hour</text>
<g shape-rendering="crispEdges">
<rect x="1" y="590" width="1165" height="1" fill="#a9a996"/>
<rect x="1165" y="1" width="1" height="590" fill="#a9a996"/>
<rect x="1" y="595" width="1171" height="1" fill="#000"/>
<rect x="1171" y="1" width="1" height="595" fill="#000"/>
<rect x="1168" y="8" width="3" height="1" fill="#000"/>
<rect x="1168" y="17" width="3" height="1" fill="#000"/>
<rect x="1168" y="26" width="3" height="1" fill="#000"/>
<rect x="1168" y="35" width="3" height="1" fill="#000"/>
<rect x="1168" y="44" width="3" height="1" fill="#000"/>
<rect x="1165" y="53" width="6" height="1" fill="#000"/>
<rect x="1168" y="62" width="3" height="1" fill="#000"/>
<rect x="1168" y="72" width="3" height="1" fill="#000"/>
<rect x="1168" y="81" width="3" height="1" fill="#000"/>
<rect x="1168" y="90" width="3" height="1" fill="#000"/>
<rect x="1168" y="99" width="3" height="1" fill="#000"/>
<rect x="1168" y="108" width="3" height="1" fill="#000"/>
<rect x="1168" y="117" width="3" height="1" fill="#000"/>
<rect x="1168" y="127" width="3" height="1" fill="#000"/>
<rect x="1168" y="136" width="3" height="1" fill="#000"/>
<rect x="1165" y="145" width="6" height="1" fill="#000"/>
<rect x="1168" y="154" width="3" height="1" fill="#000"/>
<rect x="1168" y="163" width="3" height="1" fill="#000"/>
<rect x="1168" y="172" width="3" height="1" fill="#000"/>
<rect x="1168" y="181" width="3" height="1" fill="#000"/>
<rect x="1168" y="191" width="3" height="1" fill="#000"/>
<rect x="1168" y="200" width="3" height="1" fill="#000"/>
<rect x="1168" y="209" width="3" height="1" fill="#000"/>
<rect x="1168" y="218" width="3" height="1" fill="#000"/>
<rect x="1168" y="227" width="3" height="1" fill="#000"/>
<rect x="1165" y="236" width="6" height="1" fill="#000"/>
<rect x="1168" y="246" width="3" height="1" fill="#000"/>
<rect x="1168" y="255" width="3" height="1" fill="#000"/>
<rect x="1168" y="264" width="3" height="1" fill="#000"/>
<rect x="1168" y="273" width="3" height="1" fill="#000"/>
<rect x="1168" y="282" width="3" height="1" fill="#000"/>
<rect x="1168" y="291" width="3" height="1" fill="#000"/>
<rect x="1168" y="301" width="3" height="1" fill="#000"/>
<rect x="1168" y="310" width="3" height="1" fill="#000"/>
<rect x="1168" y="319" width="3" height="1" fill="#000"/>
<rect x="1165" y="328" width="6" height="1" fill="#000"/>
<rect x="1168" y="337" width="3" height="1" fill="#000"/>
<rect x="1168" y="346" width="3" height="1" fill="#000"/>
<rect x="1168" y="355" width="3" height="1" fill="#000"/>
<rect x="1168" y="365" width="3" height="1" fill="#000"/>
<rect x="1168" y="374" width="3" height="1" fill="#000"/>
<rect x="1168" y="383" width="3" height="1" fill="#000"/>
<rect x="1168" y="392" width="3" height="1" fill="#000"/>
<rect x="1168" y="401" width="3" height="1" fill="#000"/>
<rect x="1168" y="410" width="3" height="1" fill="#000"/>
<rect x="1165" y="420" width="6" height="1" fill="#000"/>
<rect x="1168" y="429" width="3" height="1" fill="#000"/>
<rect x="1168" y="438" width="3" height="1" fill="#000"/>
<rect x="1168" y="447" width="3" height="1" fill="#000"/>
<rect x="1168" y="456" width="3" height="1" fill="#000"/>
<rect x="1168" y="465" width="3" height="1" fill="#000"/>
<rect x="1168" y="475" width="3" height="1" fill="#000"/>
<rect x="1168" y="484" width="3" height="1" fill="#000"/>
<rect x="1168" y="493" width="3" height="1" fill="#000"/>
<rect x="1168" y="502" width="3" height="1" fill="#000"/>
<rect x="1165" y="511" width="6" height="1" fill="#000"/>
<rect x="1168" y="520" width="3" height="1" fill="#000"/>
<rect x="1168" y="529" width="3" height="1" fill="#000"/>
<rect x="1168" y="539" width="3" height="1" fill="#000"/>
<rect x="1168" y="548" width="3" height="1" fill="#000"/>
<rect x="1168" y="557" width="3" height="1" fill="#000"/>
<rect x="1168" y="566" width="3" height="1" fill="#000"/>
<rect x="1168" y="575" width="3" height="1" fill="#000"/>
<rect x="70" y="590" width="1" height="6" fill="#000"/>
<rect x="154" y="590" width="1" height="6" fill="#000"/>
<rect x="238" y="590" width="1" height="6" fill="#000"/>
<rect x="322" y="590" width="1" height="6" fill="#000"/>
<rect x="406" y="590" width="1" height="6" fill="#000"/>
<rect x="490" y="590" width="1" height="6" fill="#000"/>
<rect x="574" y="590" width="1" height="6" fill="#000"/>
<rect x="658" y="590" width="1" height="6" fill="#000"/>
<rect x="726" y="590" width="1" height="6" fill="#000"/>
<rect x="786" y="590" width="1" height="6" fill="#000"/>
<rect x="882" y="590" width="1" height="6" fill="#000"/>
<rect x="978" y="590" width="1" height="6" fill="#000"/>
<rect x="1074" y="590" width="1" height="6" fill="#000"/>
<rect x="0" y="0" width="1225" height="1" fill="#000"/>
<rect x="0" y="0" width="1" height="612" fill="#000"/>
<rect x="1224" y="0" width="1" height="612" fill="#000"/>
<rect x="0" y="611" width="1225" height="1" fill="#000"/>
</g>
<text class="ax" style="letter-spacing:-0.1px" x="70.5" y="607.8" text-anchor="middle">May-12</text>
<text class="ax" style="letter-spacing:-0.1px" x="154.5" y="607.8" text-anchor="middle">May-15</text>
<text class="ax" style="letter-spacing:-0.1px" x="238.5" y="607.8" text-anchor="middle">May-20</text>
<text class="ax" style="letter-spacing:-0.1px" x="322.5" y="607.8" text-anchor="middle">May-23</text>
<text class="ax" style="letter-spacing:-0.1px" x="406.5" y="607.8" text-anchor="middle">May-28</text>
<text class="ax" style="letter-spacing:0.12px" x="490.5" y="607.8" text-anchor="middle">Jun-2014</text>
<text class="ax" style="letter-spacing:0.03px" x="574.5" y="607.8" text-anchor="middle">Jun-05</text>
<text class="ax" style="letter-spacing:0.03px" x="658.5" y="607.8" text-anchor="middle">Jun-10</text>
<text class="ax" style="letter-spacing:0.03px" x="726.5" y="607.8" text-anchor="middle">Jun-13</text>
<text class="ax" style="letter-spacing:0.03px" x="786.5" y="607.8" text-anchor="middle">Jun-14</text>
<text class="ax" style="letter-spacing:0.03px" x="882.5" y="607.8" text-anchor="middle">Jun-15</text>
<text class="ax" style="letter-spacing:0.03px" x="978.5" y="607.8" text-anchor="middle">Jun-16</text>
<text class="ax" style="letter-spacing:0.03px" x="1074.5" y="607.8" text-anchor="middle">Jun-17</text>
<text class="ax" x="1174.4" y="57.8">7800.00</text>
<text class="ax" x="1174.4" y="149.8">7600.00</text>
<text class="ax" x="1174.4" y="240.8">7400.00</text>
<text class="ax" x="1174.4" y="332.8">7200.00</text>
<text class="ax" x="1174.4" y="424.8">7000.00</text>
<text class="ax" x="1174.4" y="515.8">6800.00</text>
<path d="M1166 99.5 L1171.5 92.5 H1220 Q1221.5 92.5 1221.5 94.0 V105.0 Q1221.5 106.5 1220 106.5 H1171.5 Z" fill="url(#gb)" stroke="#555" stroke-width="1" stroke-linejoin="round"/>
<text class="ax" x="1174.4" y="103.7">7700.00</text>
<path d="M1166 150.5 L1171.5 143.5 H1220 Q1221.5 143.5 1221.5 145.0 V156.0 Q1221.5 157.5 1220 157.5 H1171.5 Z" fill="url(#gp)" stroke="#555" stroke-width="1" stroke-linejoin="round"/>
<text class="ax" x="1174.4" y="154.7">7589.50</text>
<path d="M1166 171.5 L1171.5 164.5 H1220 Q1221.5 164.5 1221.5 166.0 V177.0 Q1221.5 178.5 1220 178.5 H1171.5 Z" fill="#fff" stroke="#000" stroke-width="1" stroke-linejoin="round"/>
<text class="ax" x="1174.4" y="175.7">7542.10</text>
<text class="wm" x="1126.9" y="608">motivewave.com</text>
</svg></body></html>
